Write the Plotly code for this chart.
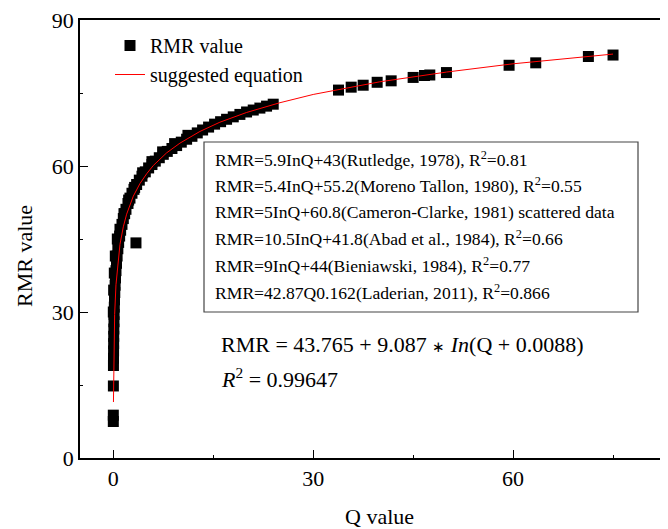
import plotly.graph_objects as go

# measured RMR values (dense part, Q < 25)
q_dense = [0.0, 0.0, 0.01, 0.02, 0.03, 0.04, 0.05, 0.06, 0.08, 0.1, 0.12, 0.15, 0.18,
           0.22, 0.27, 0.33, 0.4, 0.48, 0.57, 0.68, 0.8, 0.95, 1.1, 1.3, 1.5, 1.7, 1.9,
           2.2, 2.5, 2.8, 3.1, 3.5, 3.9, 4.3, 4.8, 5.3, 5.8, 6.3, 6.9, 7.5, 8.1, 8.8,
           9.5, 10.2, 11.0, 11.8, 12.6, 13.4, 14.3, 15.2, 16.1, 17.0, 18.0, 19.0, 20.0,
           21.0, 22.0, 23.0, 24.0, 3.4,
           0.0, 0.05, 0.15, 0.3, 0.6, 1.0, 1.6, 2.3, 3.2, 4.4, 5.8, 7.4, 9.2, 11.2]
rmr_dense = [7.5, 8.8, 14.8, 19.0, 20.5, 22.0, 23.5, 25.0, 26.5, 28.0, 29.5, 31.0, 32.5,
             34.0, 35.5, 37.0, 38.5, 40.0, 41.5, 43.0, 44.3, 45.6, 46.8, 48.0, 49.2, 50.2, 51.1,
             52.3, 53.4, 54.4, 55.2, 56.2, 57.1, 57.9, 58.8, 59.6, 60.3, 61.0, 61.7, 62.4, 63.0, 63.6,
             64.2, 64.9, 65.5, 66.1, 66.8, 67.4, 68.0, 68.6, 69.1, 69.6, 70.1, 70.6, 71.1,
             71.5, 71.9, 72.3, 72.7, 44.2,
             30.0, 34.5, 38.0, 41.5, 45.0, 47.0, 50.2, 53.0, 55.6, 58.6, 60.9, 62.9, 64.6, 66.3]

# sparse points, Q > 30
q_sparse = [33.8, 35.7, 37.5, 39.6, 41.7, 45.0, 46.7, 47.5, 50.0, 59.4, 63.4, 71.3, 75.0]
rmr_sparse = [75.6, 76.2, 76.6, 77.2, 77.5, 78.2, 78.6, 78.7, 79.2, 80.7, 81.2, 82.5, 82.8]

# suggested equation curve
q_fit = [0.02, 0.05, 0.1, 0.2, 0.4, 0.7, 1.0, 1.5, 2, 3, 4, 5, 6, 8, 10, 13, 16, 20,
         25, 30, 40, 50, 60, 75]
rmr_fit = [11.5, 18.0, 23.6, 29.5, 35.6, 40.6, 43.9, 47.5, 50.1, 53.8, 56.4, 58.4, 60.1,
           62.7, 64.7, 67.1, 69.0, 71.0, 73.0, 74.7, 77.3, 79.3, 81.0, 83.0]

box_lines = [
    "RMR=5.9InQ+43(Rutledge, 1978), R<sup>2</sup>=0.81",
    "RMR=5.4InQ+55.2(Moreno Tallon, 1980), R<sup>2</sup>=0.55",
    "RMR=5InQ+60.8(Cameron-Clarke, 1981) scattered data",
    "RMR=10.5InQ+41.8(Abad et al., 1984), R<sup>2</sup>=0.66",
    "RMR=9InQ+44(Bieniawski, 1984), R<sup>2</sup>=0.77",
    "RMR=42.87Q0.162(Laderian, 2011), R<sup>2</sup>=0.866",
]
box_baselines = [167, 193, 219, 246, 273, 300]  # page rows of text baselines

FONT = "Liberation Serif"
OFF = 8  # page body margin
W, H = 660, 521
L, R, T, B = 72, 0, 12, 71
PW, PH = W - L - R, H - T - B


def px(x):
    return (x - OFF - L) / PW


def py(y):
    return (H - B - (y - OFF)) / PH


fig = go.Figure()

fig.add_trace(go.Scatter(
    x=q_dense + q_sparse, y=rmr_dense + rmr_sparse,
    mode='markers', name='RMR value',
    marker=dict(symbol='square', size=11, color='black', line=dict(width=0)),
))
fig.add_trace(go.Scatter(
    x=q_fit, y=rmr_fit, mode='lines', name='suggested equation',
    line=dict(color='red', width=1),
))

annotations = []
for txt, base in zip(box_lines, box_baselines):
    annotations.append(dict(
        x=px(213), y=py(base + 5), xref='paper', yref='paper',
        xanchor='left', yanchor='bottom', text=txt, showarrow=False,
        font=dict(family=FONT, size=17.6, color='black'),
    ))

annotations.append(dict(
    x=px(219), y=py(344), xref='paper', yref='paper', xanchor='left', yanchor='middle',
    text="RMR = 43.765 + 9.087 <span style='font-size:15px'>∗</span> <i>In</i>(Q + 0.0088)",
    showarrow=False, font=dict(family=FONT, size=22, color='black'),
))
annotations.append(dict(
    x=px(219), y=py(378), xref='paper', yref='paper', xanchor='left', yanchor='middle',
    text="<i>R</i><sup>2</sup> = 0.99647", showarrow=False,
    font=dict(family=FONT, size=22, color='black'),
))

# axis titles
annotations.append(dict(
    x=px(24), y=py(256), xref='paper', yref='paper', xanchor='center', yanchor='middle',
    text="RMR value", textangle=-90, showarrow=False,
    font=dict(family=FONT, size=22, color='black'),
))
annotations.append(dict(
    x=px(379), y=py(516), xref='paper', yref='paper', xanchor='center', yanchor='middle',
    text="Q value", showarrow=False,
    font=dict(family=FONT, size=22, color='black'),
))

fig.update_layout(
    width=W, height=H,
    margin=dict(l=L, r=R, t=T, b=B),
    plot_bgcolor='white', paper_bgcolor='white',
    font=dict(family=FONT, size=22, color='black'),
    annotations=annotations,
    shapes=[dict(type='rect', xref='paper', yref='paper',
                 x0=px(204), x1=px(638), y0=py(312), y1=py(142),
                 line=dict(color='#444444', width=1.2), fillcolor='rgba(0,0,0,0)')],
    legend=dict(
        x=px(110), y=py(26), xanchor='left', yanchor='top',
        bgcolor='rgba(0,0,0,0)', font=dict(family=FONT, size=20),
    ),
    showlegend=True,
)

fig.update_xaxes(
    range=[-5, 83.25], tickvals=[0, 30, 60], ticks='inside', ticklen=8, tickwidth=1.2,
    tickcolor='black', showline=True, linecolor='black', linewidth=1.5, mirror=True,
    showgrid=False, zeroline=False,
    minor=dict(tickvals=[15, 45, 75], ticks='inside', ticklen=3, tickcolor='black'),
    tickfont=dict(family=FONT, size=22, color='black'),
)
fig.update_yaxes(
    range=[0, 90], tickvals=[0, 30, 60, 90], ticks='inside', ticklen=8, tickwidth=1.2,
    tickcolor='black', showline=True, linecolor='black', linewidth=1.5,
    showgrid=False, zeroline=False, ticklabeloverflow='allow',
    minor=dict(tickvals=[15, 45, 75], ticks='inside', ticklen=3, tickcolor='black'),
    tickfont=dict(family=FONT, size=22, color='black'),
)

fig.write_html("out.html")
